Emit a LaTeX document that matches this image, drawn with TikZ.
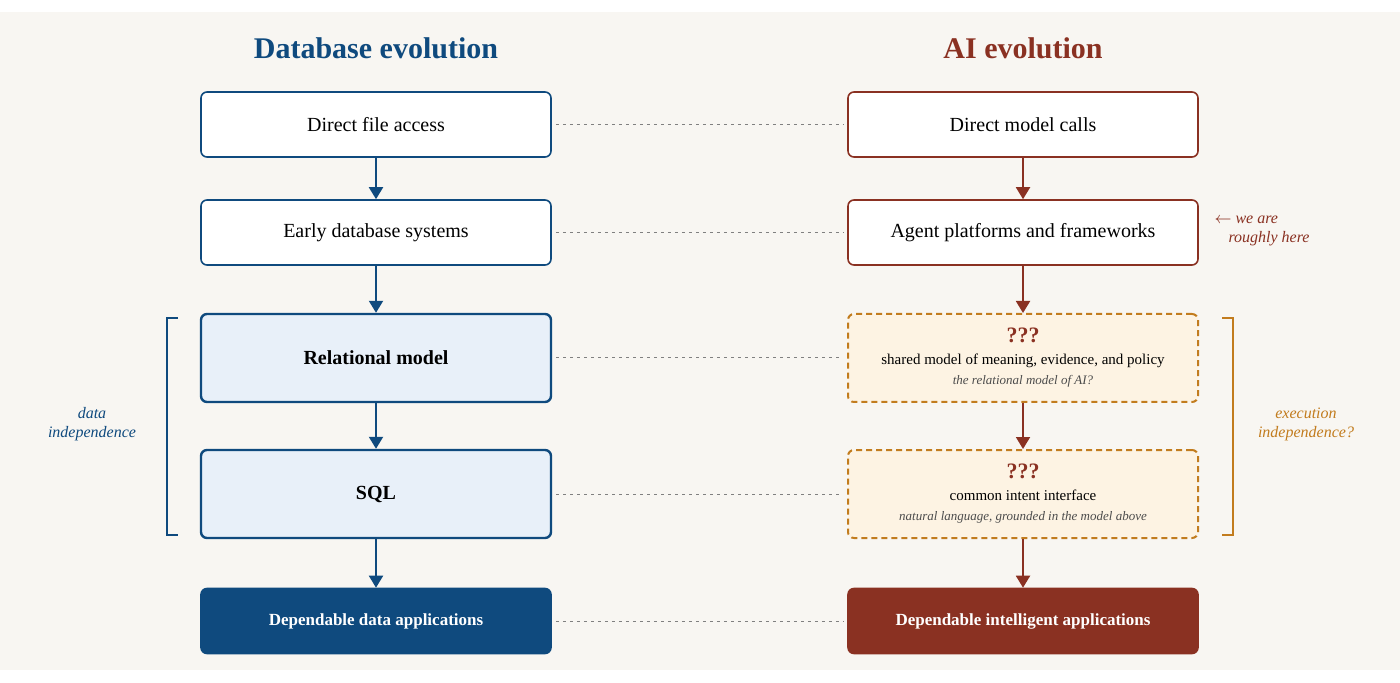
\documentclass[tikz,border=0pt]{standalone}
\usepackage{fontspec}
\setmainfont{Liberation Serif}
\usepackage{tikz}
\usetikzlibrary{positioning, arrows.meta}
\definecolor{dbblue}{HTML}{0F4A7E}
\definecolor{aired}{HTML}{8A3122}
\definecolor{aiorange}{HTML}{C27C1E}
\definecolor{bluefill}{HTML}{E8F0F9}
\definecolor{orangefill}{HTML}{FDF3E3}
\definecolor{paper}{HTML}{F8F6F2}
\tikzset{stage/.style={
        draw,
        rectangle,
        rounded corners=3pt,
        line width=0.8pt,
        minimum width=175pt,
        minimum height=32.5pt,
        align=center,
        fill=white,
        font=\fontsize{10}{12}\selectfont
}}
\tikzset{keystage/.style={
        stage,
        line width=1.2pt,
        minimum height=44pt,
        fill=bluefill,
        font=\fontsize{10}{12}\selectfont\bfseries
}}
\tikzset{openstage/.style={
        stage,
        line width=1pt,
        dash pattern=on 3pt off 2pt,
        minimum height=44pt,
        draw=aiorange,
        fill=orangefill
}}
\tikzset{goal/.style={
        stage,
        text=white,
        font=\fontsize{8.5}{10}\selectfont\bfseries
}}
\tikzset{stepedge/.style={draw,line width=1pt,-{Triangle[length=6pt,width=7pt]}}}
\tikzset{linkedge/.style={draw,gray,line width=0.5pt,dash pattern=on 1.5pt off 2pt}}
\tikzset{sidenote/.style={align=center,font=\fontsize{8}{9.5}\selectfont\itshape}}

\begin{document}
\begin{tikzpicture}[x=0.5pt,y=-0.5pt]
\useasboundingbox (0,0) rectangle (1400,683);
\fill[paper] (0,12) rectangle (1400,670);

\node[font=\fontsize{15}{18}\selectfont\bfseries, text=dbblue] (dbtitle) at (376,48) {Database evolution};
\node[font=\fontsize{15}{18}\selectfont\bfseries, text=aired] (aititle) at (1023,48) {AI evolution};

% database column
\node[stage, draw=dbblue] (db1) at (376,124.5) {Direct file access};
\node[stage, draw=dbblue] (db2) at (376,232.5) {Early database systems};
\node[keystage, draw=dbblue] (db3) at (376,358) {Relational model};
\node[keystage, draw=dbblue] (db4) at (376,494) {SQL};
\node[goal, draw=dbblue, fill=dbblue] (db5) at (376,621) {Dependable data applications};

% AI column
\node[stage, draw=aired] (ai1) at (1023,124.5) {Direct model calls};
\node[stage, draw=aired] (ai2) at (1023,232.5) {Agent platforms and frameworks};
\node[openstage] (ai3) at (1023,358) {\textcolor{aired}{\fontsize{11}{13}\selectfont\bfseries ???}\\[-1pt]
  {\fontsize{7.5}{9}\selectfont shared model of meaning, evidence, and policy}\\[-2pt]
  {\fontsize{6.5}{8}\selectfont\itshape\color{black!70} the relational model of AI?}};
\node[openstage] (ai4) at (1023,494) {\textcolor{aired}{\fontsize{11}{13}\selectfont\bfseries ???}\\[-1pt]
  {\fontsize{7.5}{9}\selectfont common intent interface}\\[-2pt]
  {\fontsize{6.5}{8}\selectfont\itshape\color{black!70} natural language, grounded in the model above}};
\node[goal, draw=aired, fill=aired] (ai5) at (1023,621) {Dependable intelligent applications};

\draw[stepedge, dbblue] (db1) -- (db2);
\draw[stepedge, dbblue] (db2) -- (db3);
\draw[stepedge, dbblue] (db3) -- (db4);
\draw[stepedge, dbblue] (db4) -- (db5);
\draw[stepedge, aired] (ai1) -- (ai2);
\draw[stepedge, aired] (ai2) -- (ai3);
\draw[stepedge, aired] (ai3) -- (ai4);
\draw[stepedge, aired] (ai4) -- (ai5);

\foreach \i in {1,...,5}
  \draw[linkedge] ([xshift=2pt]db\i.east) -- ([xshift=-2pt]ai\i.west);

% brackets and notes
\coordinate (lb1) at (178,318);
\coordinate (lb2) at (178,535);
\draw[dbblue, line width=0.6pt] (lb1) -- ++(-11,0) |- (lb2);
\node[sidenote, text=dbblue] (datanote) at (92,424) {data\\independence};
\coordinate (rb1) at (1222,318);
\coordinate (rb2) at (1222,535);
\draw[aiorange, line width=0.6pt] (rb1) -- ++(11,0) |- (rb2);
\node[sidenote, text=aiorange] (execnote) at (1306,424) {execution\\independence?};
\node[sidenote, text=aired, align=left] (herenote) at (1262,231) {$\leftarrow$ we are\\\hspace*{7pt}roughly here};
\end{tikzpicture}
\end{document}
